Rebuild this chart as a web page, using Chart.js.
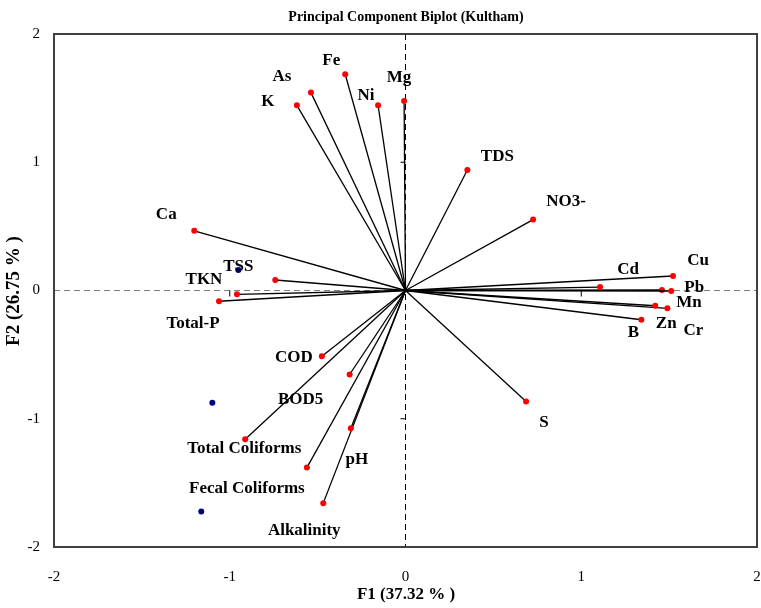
<!DOCTYPE html>
<html>
<head>
<meta charset="utf-8">
<script src="https://cdn.jsdelivr.net/npm/chart.js@4/dist/chart.umd.min.js"></script>
<style>
  html, body { margin: 0; padding: 0; background: #fff; overflow: hidden; }
  #wrap { width: 761px; height: 608px; position: relative; }
  canvas { display: block; }
</style>
</head>
<body>
<div id="wrap"><canvas id="biplot"></canvas></div>
<script>
// Variables (loadings): F1 and F2
const variables = ["Fe", "As", "K", "Ni", "Mg", "TDS", "NO3-", "Cu", "Cd", "Pb", "Mn", "Zn", "Cr", "B", "S",
  "Ca", "TSS", "TKN", "Total-P", "COD", "BOD5", "Total Coliforms", "pH", "Fecal Coliforms", "Alkalinity"];
const f1 = [-0.343, -0.538, -0.618, -0.156, -0.008, 0.352, 0.726, 1.522, 1.107, 1.512, 1.459, 1.421, 1.490, 1.342, 0.686,
  -1.202, -0.741, -0.959, -1.061, -0.476, -0.318, -0.912, -0.311, -0.561, -0.468];
const f2 = [1.686, 1.543, 1.444, 1.444, 1.478, 0.939, 0.553, 0.113, 0.027, -0.004, 0.004, -0.119, -0.139, -0.228, -0.866,
  0.465, 0.082, -0.030, -0.084, -0.512, -0.655, -1.160, -1.074, -1.381, -1.658];

// Observations (blue dots)
const obsF1 = [-0.951, -1.099, -1.162];
const obsF2 = [0.160, -0.876, -1.723];

const axisTicks = [-2, -1, 0, 1, 2];

// label placement, in pixels from each red point
const labelOffsets = [[-14, -14], [-29, -16], [-29, -4], [-12, -10], [-5, -23], [30, -13], [33, -18], [25, -15], [28, -17],
  [23, -3], [27, 13], [11, 18], [26, 22], [-8, 13], [18, 21], [-28, -16], [-37, -13], [-33, -15], [-26, 22], [-28, 1],
  [-49, 25], [-1, 9], [6, 31], [-60, 21], [-19, 27]];

const serif = "'Liberation Serif', 'Times New Roman', serif";

// un dataset par vecteur : origine -> variable
const datasets = variables.map((name, i) => ({
  label: name,
  data: [{ x: 0, y: 0 }, { x: f1[i], y: f2[i] }],
  showLine: true,
  borderColor: "#000",
  borderWidth: 1.3,
  pointRadius: [0, 3],
  pointHoverRadius: [0, 3],
  pointBackgroundColor: "#ff0000",
  pointBorderColor: "#ff0000",
  pointBorderWidth: 0
}));
datasets.push({
  label: "obs",
  data: obsF1.map((x, i) => ({ x: x, y: obsF2[i] })),
  showLine: false,
  pointRadius: 3,
  pointBackgroundColor: "#000080",
  pointBorderColor: "#000080",
  pointBorderWidth: 0
});

const decorations = {
  id: "decorations",
  beforeDatasetsDraw(chart) {
    const ctx = chart.ctx;
    const a = chart.chartArea;
    const sx = chart.scales.x, sy = chart.scales.y;
    const x0 = sx.getPixelForValue(0), y0 = sy.getPixelForValue(0);
    ctx.save();
    ctx.lineWidth = 1;
    ctx.setLineDash([6, 4]);
    ctx.strokeStyle = "#808080";
    ctx.beginPath();
    ctx.moveTo(a.left, y0);
    ctx.lineTo(a.right, y0);
    ctx.stroke();
    ctx.strokeStyle = "#000";
    ctx.beginPath();
    ctx.moveTo(x0, a.top);
    ctx.lineTo(x0, a.bottom);
    ctx.stroke();
    ctx.setLineDash([]);
    // petites graduations sur les axes centraux
    ctx.strokeStyle = "#000";
    axisTicks.forEach(v => {
      if (v === 0 || Math.abs(v) === 2) return;
      const px = sx.getPixelForValue(v);
      ctx.beginPath();
      ctx.moveTo(px, y0);
      ctx.lineTo(px, y0 + 6);
      ctx.stroke();
      const py = sy.getPixelForValue(v);
      ctx.beginPath();
      ctx.moveTo(x0 - 5, py);
      ctx.lineTo(x0, py);
      ctx.stroke();
    });
    ctx.restore();
  },
  afterDraw(chart) {
    const ctx = chart.ctx;
    const a = chart.chartArea;
    const sx = chart.scales.x, sy = chart.scales.y;
    ctx.save();
    // cadre
    ctx.strokeStyle = "#404040";
    ctx.lineWidth = 2;
    ctx.strokeRect(a.left, a.top, a.right - a.left, a.bottom - a.top);

    ctx.fillStyle = "#000";
    ctx.textAlign = "center";
    ctx.textBaseline = "middle";
    ctx.font = "bold 17px " + serif;
    variables.forEach((name, i) => {
      const px = sx.getPixelForValue(f1[i]) + labelOffsets[i][0];
      const py = sy.getPixelForValue(f2[i]) + labelOffsets[i][1];
      ctx.fillText(name, px, py);
    });

    ctx.font = "bold 14px " + serif;
    ctx.fillText("Principal Component Biplot (Kultham)", 406, 17);
    ctx.font = "bold 17px " + serif;
    ctx.fillText("F1 (37.32 % )", 406, 595);
    ctx.translate(14, 291);
    ctx.rotate(-Math.PI / 2);
    ctx.font = "bold 19px " + serif;
    ctx.fillText("F2 (26.75 % )", 0, 0);
    ctx.restore();
  }
};

new Chart(document.getElementById("biplot"), {
  type: "scatter",
  data: { datasets: datasets },
  options: {
    responsive: true,
    maintainAspectRatio: false,
    animation: false,
    layout: { padding: { top: 34, right: 3, left: 0, bottom: 0 } },
    plugins: {
      legend: { display: false },
      tooltip: { enabled: false }
    },
    scales: {
      x: {
        min: -2, max: 2,
        grid: { display: false, drawTicks: false },
        border: { display: false },
        afterFit: s => { s.height = 61; s.paddingLeft = 0; s.paddingRight = 0; },
        afterBuildTicks: s => { s.ticks = axisTicks.map(v => ({ value: v })); },
        ticks: { padding: 21, color: "#000", font: { family: serif, size: 15 } }
      },
      y: {
        min: -2, max: 2,
        grid: { display: false, drawTicks: false },
        border: { display: false },
        afterFit: s => { s.width = 54; s.paddingTop = 0; s.paddingBottom = 0; },
        afterBuildTicks: s => { s.ticks = axisTicks.map(v => ({ value: v })); },
        ticks: { padding: 14, color: "#000", font: { family: serif, size: 15 } }
      }
    }
  },
  plugins: [decorations]
});
</script>
</body>
</html>
